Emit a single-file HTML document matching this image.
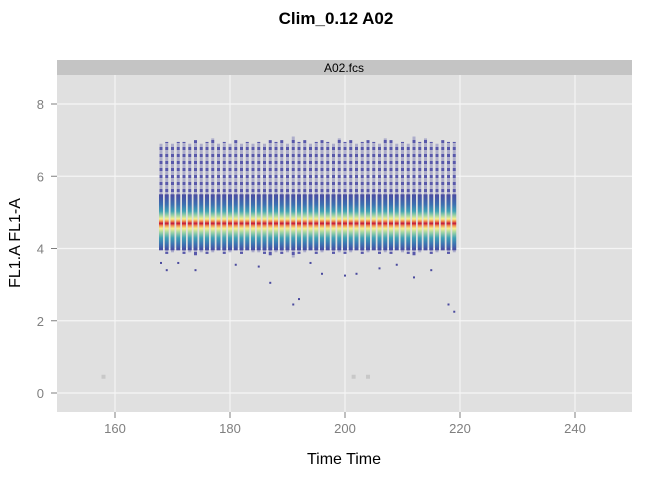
<!DOCTYPE html>
<html><head><meta charset="utf-8"><style>
body{margin:0;background:#fff;font-family:"Liberation Sans",sans-serif}
</style></head><body>
<svg id="chart" width="672" height="480" xmlns="http://www.w3.org/2000/svg" font-family="Liberation Sans, sans-serif">
<defs>
<linearGradient id="core" x1="0" y1="0" x2="0" y2="1">
<stop offset="0" stop-color="#4a4aa0"/>
<stop offset="0.18" stop-color="#3d6fb0"/>
<stop offset="0.3" stop-color="#3fa0b5"/>
<stop offset="0.38" stop-color="#9fd4a4"/>
<stop offset="0.44" stop-color="#f6f08e"/>
<stop offset="0.48" stop-color="#f2924f"/>
<stop offset="0.52" stop-color="#c0143a"/>
<stop offset="0.56" stop-color="#f2924f"/>
<stop offset="0.61" stop-color="#f6f08e"/>
<stop offset="0.68" stop-color="#9fd4a4"/>
<stop offset="0.78" stop-color="#3fa0b5"/>
<stop offset="0.9" stop-color="#3d6fb0"/>
<stop offset="1" stop-color="#4a4aa0"/>
</linearGradient>
<pattern id="speck" width="3" height="7" patternUnits="userSpaceOnUse">
<rect width="3" height="7" fill="#6a6ab0" opacity="0.5"/>
<rect y="0" width="3" height="3" fill="#4040a0"/>
</pattern>
</defs>
<text x="336" y="24" text-anchor="middle" font-size="17" font-weight="bold">Clim_0.12 A02</text>
<rect x="57" y="60" width="575" height="15" fill="#c4c4c4"/>
<text x="344" y="72" text-anchor="middle" font-size="12">A02.fcs</text>
<rect x="57" y="75" width="575" height="337" fill="#e0e0e0"/>
<g id="grid"></g>
<g id="marks"></g>
<g id="axes"></g>
<text x="344" y="464" text-anchor="middle" font-size="16">Time Time</text>
<text transform="translate(20,243) rotate(-90)" text-anchor="middle" font-size="16">FL1.A FL1-A</text>
</svg>
<script>
const xTicks=[160,180,200,220,240];
const yTicks=[0,2,4,6,8];
const times=[168,169,170,171,172,173,174,175,176,177,178,179,180,181,182,183,184,185,186,187,188,189,190,191,192,193,194,195,196,197,198,199,200,201,202,203,204,205,206,207,208,209,210,211,212,213,214,215,216,217,218,219];
const tops=[6.9,6.95,6.9,6.95,6.95,6.9,7.0,6.9,6.95,7.05,6.9,6.95,6.9,7.0,6.9,6.95,6.9,6.95,6.9,7.0,6.95,7.0,6.9,7.1,6.95,7.0,6.9,6.95,7.0,6.95,6.9,7.05,6.95,7.0,6.9,6.95,7.0,6.95,6.9,7.05,7.0,6.9,6.95,6.9,7.1,6.95,7.05,6.95,6.9,7.0,6.95,6.95];
const bottoms=[4.0,3.85,3.9,3.95,3.85,3.9,3.8,3.9,3.85,3.9,3.95,3.85,3.9,3.95,3.85,3.95,3.9,3.9,3.85,3.8,3.9,3.85,3.9,3.75,3.85,3.9,3.95,3.85,3.9,3.95,3.85,3.9,3.85,3.9,3.95,3.85,3.9,3.95,3.85,3.9,3.85,3.95,3.9,3.85,3.8,3.9,3.95,3.85,3.9,3.95,3.85,3.9];
const centers=times.map(()=>4.65);
const outT=[168,169,187,191,192,200,202,212,218,219,174,196,206,171,181,185,194,209,215];
const outV=[3.6,3.4,3.05,2.45,2.6,3.25,3.3,3.2,2.45,2.25,3.4,3.3,3.45,3.6,3.55,3.5,3.6,3.55,3.4];
const greyT=[158,201.5,204];
const greyV=[0.45,0.45,0.45];
const NS='http://www.w3.org/2000/svg';
const xs=v=>57.5+(v-150)*5.75;
const ys=v=>393-v*36.125;
function mk(p,tag,a){const e=document.createElementNS(NS,tag);for(const k in a)e.setAttribute(k,a[k]);p.appendChild(e);return e;}
const grid=document.getElementById('grid'),marks=document.getElementById('marks'),axes=document.getElementById('axes');
xTicks.forEach(t=>{
 const l=mk(grid,'line',{x1:xs(t),x2:xs(t),y1:75,y2:412,stroke:'#f5f5f5','stroke-width':1.2});
 
 
 const tk=mk(axes,'line',{x1:xs(t),x2:xs(t),y1:412,y2:418,stroke:'#7f7f7f'});
 
 
 const tx=mk(axes,'text',{x:xs(t),y:433,'text-anchor':'middle','font-size':13,fill:'#7f7f7f'});
 tx.textContent=t;
 
 
});
yTicks.forEach(t=>{
 const l=mk(grid,'line',{x1:57,x2:632,y1:ys(t),y2:ys(t),stroke:'#f5f5f5','stroke-width':1.2});
 
 
 const tk=mk(axes,'line',{x1:51,x2:57,y1:ys(t),y2:ys(t),stroke:'#7f7f7f'});
 
 
 const tx=mk(axes,'text',{x:44,y:ys(t)+5,'text-anchor':'end','font-size':13,fill:'#7f7f7f'});
 tx.textContent=t;
 
 
});
times.forEach((t,i)=>{
 const cx=xs(t);
 const c=mk(marks,'rect',{x:cx-1.5,y:ys(tops[i]),width:3,height:ys(bottoms[i])-ys(tops[i]),fill:'url(#speck)',opacity:0.85});
 
 
 const hi=centers[i]+0.85,lo=centers[i]-0.7;
 const g=mk(marks,'rect',{x:cx-2,y:ys(hi),width:4,height:ys(lo)-ys(hi),fill:'url(#core)'});
 
 
});
outT.forEach((t,i)=>{
 const p=mk(marks,'rect',{x:xs(t)-1,y:ys(outV[i])-1,width:2,height:2,fill:'#4a4a9e'});
 
 
});
greyT.forEach((t,i)=>{
 const p=mk(marks,'rect',{x:xs(t)-2,y:ys(greyV[i])-2,width:4,height:4,fill:'#c8c8c8'});
 
 
});
</script>
</body></html>
